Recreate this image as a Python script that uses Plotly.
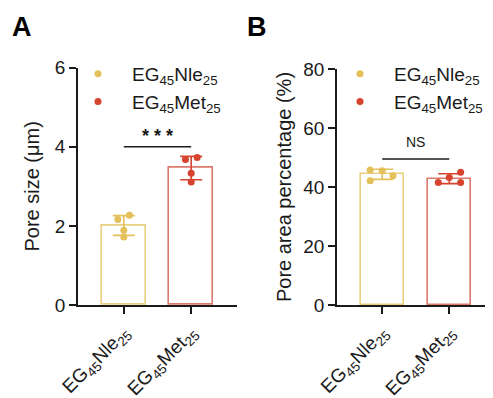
import numpy as np
import plotly.graph_objects as go

# ---------------- data ----------------
categories = ["EG<sub>45</sub>Nle<sub>25</sub>", "EG<sub>45</sub>Met<sub>25</sub>"]
pore_size_nle = [2.16, 2.27, 1.89, 1.72]
pore_size_met = [3.68, 3.73, 3.33, 3.11]
pore_area_nle = [45.8, 45.5, 43.8, 42.1]
pore_area_met = [41.5, 43.2, 45.0, 41.5]
sig_a = "<b>* * *</b>"
sig_b = "NS"
yticks_a = [0, 2, 4, 6]
yticks_b = [0, 20, 40, 60, 80]

# ---------------- style ----------------
OFF = 8  # default page body margin
W, H = 493 - OFF, 398 - OFF
FONT = "Arial, Liberation Sans, Helvetica, sans-serif"
pt_colors = ["#E3C05A", "#D6432E"]
bar_line_colors = ["#E9CF80", "#D97A6D"]
JIT_A = [[-0.089, 0.083, 0.0, 0.0], [-0.085, 0.089, 0.0, 0.0]]
JIT_B = [[-0.18, 0.0, 0.16, -0.18], [-0.164, 0.0, 0.17, 0.17]]

def px_x(p):
    return (p - OFF) / W

def px_y(p):
    return (H - (p - OFF)) / H

fig = go.Figure()

def add_panel(fig, groups, jit, xa, ya, bar_w):
    for i, vals in enumerate(groups):
        vals = np.array(vals, dtype=float)
        m = vals.mean()
        sd = vals.std(ddof=1)
        fig.add_trace(go.Bar(
            x=[i], y=[m], width=bar_w, xaxis=xa, yaxis=ya,
            marker=dict(color="white", line=dict(color=bar_line_colors[i], width=1.6)),
            showlegend=False, hoverinfo="skip"))
        fig.add_trace(go.Scatter(
            x=[i + j for j in jit[i]], y=vals, mode="markers", xaxis=xa, yaxis=ya,
            marker=dict(color=pt_colors[i], size=7), showlegend=False, hoverinfo="skip"))
        fig.add_trace(go.Scatter(
            x=[i], y=[m], mode="markers", xaxis=xa, yaxis=ya,
            marker=dict(color=pt_colors[i], size=1, opacity=0),
            error_y=dict(type="data", array=[sd], visible=True, color=pt_colors[i],
                         thickness=1.6, width=11),
            showlegend=False, hoverinfo="skip"))

add_panel(fig, [pore_size_nle, pore_size_met], JIT_A, "x", "y", 0.654)
add_panel(fig, [pore_area_nle, pore_area_met], JIT_B, "x2", "y2", 0.646)

# legends
for i, name in enumerate(categories):
    fig.add_trace(go.Scatter(x=[None], y=[None], mode="markers", name=name,
                             marker=dict(color=pt_colors[i], size=7), legend="legend"))
    fig.add_trace(go.Scatter(x=[None], y=[None], mode="markers", name=name,
                             marker=dict(color=pt_colors[i], size=7), legend="legend2"))

axis_common = dict(showline=True, linecolor="#1a1a1a", linewidth=1.6, ticks="outside",
                   ticklen=7, tickwidth=1.6, tickcolor="#1a1a1a", showgrid=False,
                   zeroline=False, automargin=False)
yfont = dict(tickfont=dict(family=FONT, size=19, color="#1a1a1a"))
xfont = dict(tickfont=dict(family=FONT, size=19, color="#1a1a1a"))

legend_common = dict(font=dict(family=FONT, size=19, color="#1a1a1a"), bgcolor="rgba(0,0,0,0)",
                     itemwidth=58, tracegroupgap=0, xanchor="left", yanchor="top")

fig.update_layout(
    width=W, height=H, margin=dict(l=0, r=0, t=0, b=0),
    paper_bgcolor="white", plot_bgcolor="white",
    font=dict(family=FONT, size=19, color="#1a1a1a"),
    xaxis=dict(domain=[px_x(78), px_x(237)], range=[-0.68, 1.68], tickvals=[0, 1],
               ticktext=categories, tickangle=-45, anchor="y", **axis_common, **xfont),
    yaxis=dict(domain=[px_y(305), px_y(67.7)], range=[0, 6], tickvals=yticks_a,
               anchor="x", title=dict(text="Pore size (μm)", standoff=10,
                                      font=dict(family=FONT, size=20)), **axis_common, **yfont),
    xaxis2=dict(domain=[px_x(337), px_x(492)], range=[-0.675, 1.638], tickvals=[0, 1],
                ticktext=categories, tickangle=-45, anchor="y2", **axis_common, **xfont),
    yaxis2=dict(domain=[px_y(305), px_y(69)], range=[0, 80], tickvals=yticks_b,
                anchor="x2", title=dict(text="Pore area percentage (%)", standoff=6,
                                        font=dict(family=FONT, size=20)), **axis_common, **yfont),
    legend=dict(x=px_x(64), y=px_y(55), **legend_common),
    legend2=dict(x=px_x(326), y=px_y(55), **legend_common),
    bargap=0,
)

# significance lines
fig.add_shape(type="line", xref="x", yref="y", x0=0, x1=1, y0=4.0, y1=4.0,
              line=dict(color="#1a1a1a", width=1.6))
fig.add_annotation(xref="x", yref="y", x=0.5, y=4.28, text=sig_a, showarrow=False,
                   font=dict(family=FONT, size=18, color="#1a1a1a"))
fig.add_shape(type="line", xref="x2", yref="y2", x0=0, x1=1, y0=49.5, y1=49.5,
              line=dict(color="#1a1a1a", width=1.4))
fig.add_annotation(xref="x2", yref="y2", x=0.5, y=55.4, text=sig_b, showarrow=False,
                   font=dict(family=FONT, size=14, color="#1a1a1a"))

# panel letters
fig.add_annotation(xref="paper", yref="paper", x=px_x(10), y=px_y(10), xanchor="left",
                   yanchor="top", text="<b>A</b>", showarrow=False,
                   font=dict(family=FONT, size=27, color="black"))
fig.add_annotation(xref="paper", yref="paper", x=px_x(245), y=px_y(10), xanchor="left",
                   yanchor="top", text="<b>B</b>", showarrow=False,
                   font=dict(family=FONT, size=27, color="black"))

fig.write_html("out.html")
